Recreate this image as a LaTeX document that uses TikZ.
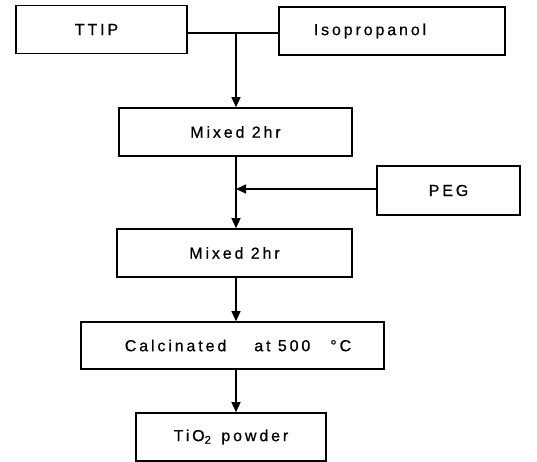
\documentclass[tikz,border=0pt]{standalone}
\usepackage{fontspec}
\setmainfont{Liberation Sans}[LetterSpace=18, FakeBold=0.6]
\usetikzlibrary{arrows.meta}
\begin{document}
\begin{tikzpicture}[x=1pt,y=1pt,
  box/.style={draw, line width=1.6pt, minimum height=48pt, inner sep=0pt, font=\fontsize{16}{18}\selectfont},
  conn/.style={line width=1.4pt},
  arr/.style={line width=1.4pt, -{Triangle[length=10pt,width=9pt]}}]
\useasboundingbox (0,0) rectangle (537,-462);
\node[box, minimum width=171pt] (ttip) at (101.5,-29.5) {TTIP\kern10pt\null};
\node[box, minimum width=226pt] (iso) at (392,-31) {Isopropanol\kern44pt\null};
\node[box, minimum width=233pt] (mix1) at (235.5,-132) {Mixed 2hr};
\node[box, minimum width=143pt, minimum height=49pt] (peg) at (448.5,-190.5) {PEG};
\node[box, minimum width=235pt] (mix2) at (234.5,-253) {Mixed 2hr};
\node[box, minimum width=303pt, minimum height=47pt] (calc) at (232.5,-345.5) {\kern11pt Calcinated\hspace{28pt}at 500\hspace{20pt}°C};
\node[box, minimum width=190pt] (tio) at (231,-437) {TiO\textsubscript{2}\hspace{10pt}powder};
\coordinate (j) at (236,-33);
\coordinate (p) at (236,-189);
\draw[conn] (ttip.east|-j) -- (iso.west|-j);
\draw[arr] (j) -- (j|-mix1.north);
\draw[arr] (j|-mix1.south) -- (j|-mix2.north);
\draw[arr] (peg.west|-p) -- (p);
\draw[arr] (j|-mix2.south) -- (j|-calc.north);
\draw[arr] (j|-calc.south) -- (j|-tio.north);
\end{tikzpicture}
\end{document}
